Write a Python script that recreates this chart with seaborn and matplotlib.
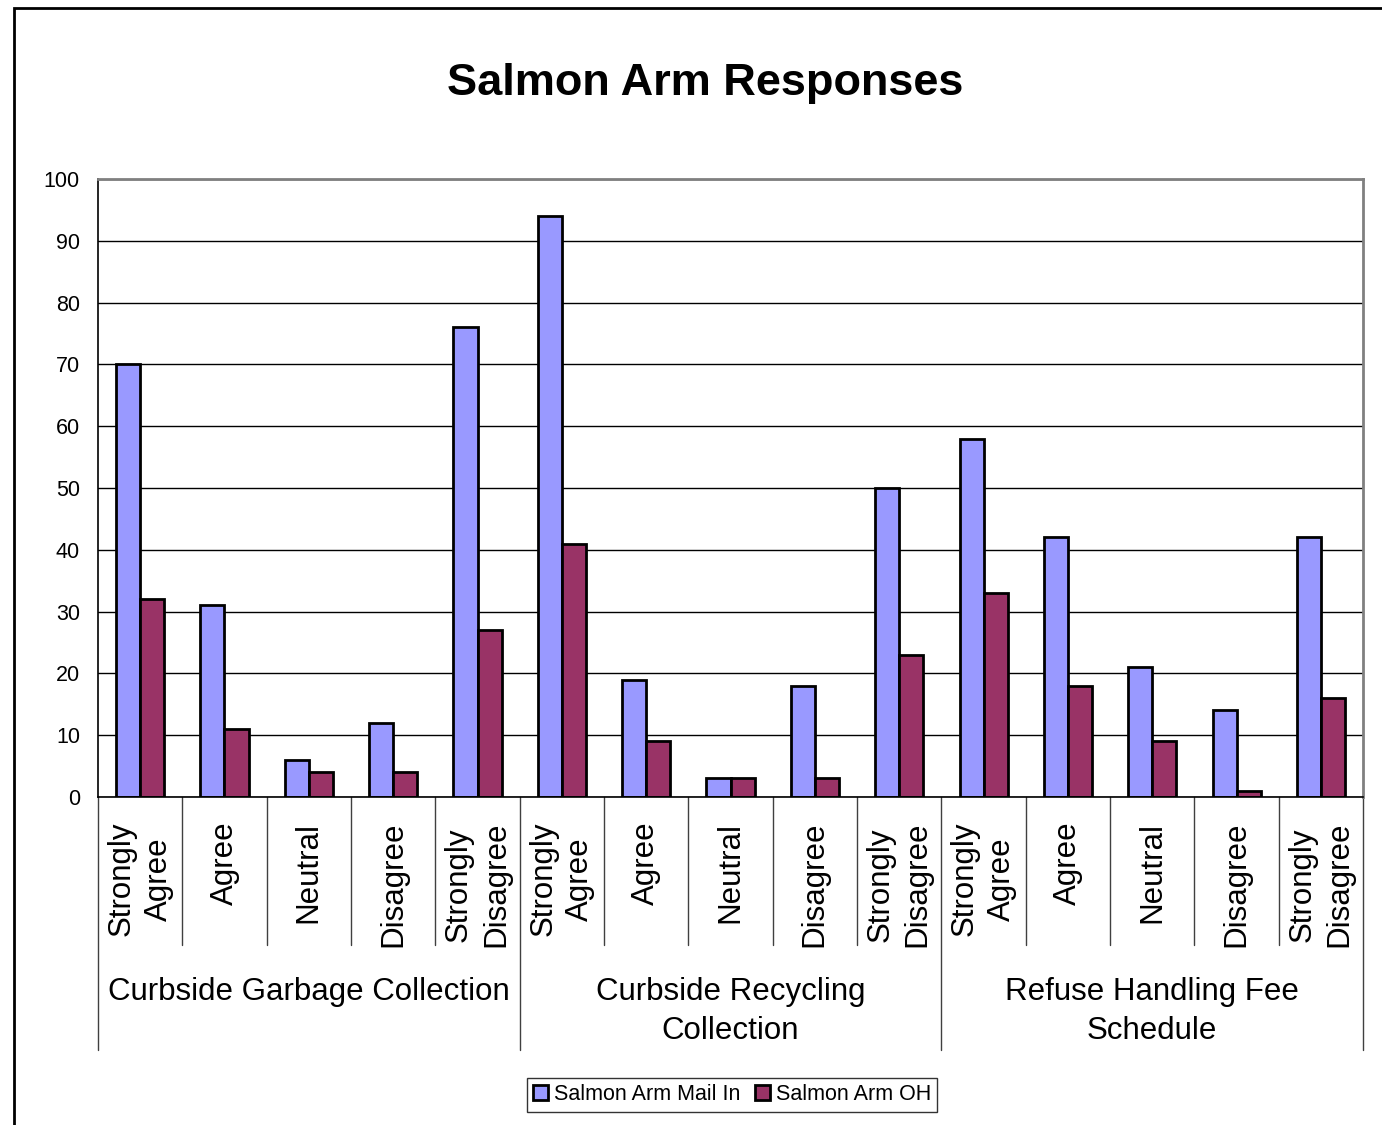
import matplotlib
matplotlib.use("Agg")
import matplotlib.pyplot as plt
import matplotlib.transforms as mtransforms
from matplotlib.patches import Rectangle, Patch
import pandas as pd
import seaborn as sns

# Data
groups = ["Curbside Garbage Collection", "Curbside Recycling\nCollection",
          "Refuse Handling Fee\nSchedule"]
responses = ["Strongly\nAgree", "Agree", "Neutral", "Disagree", "Strongly\nDisagree"]
series_names = ["Salmon Arm Mail In", "Salmon Arm OH"]
mail_in = [70, 31, 6, 12, 76,
           94, 19, 3, 18, 50,
           58, 42, 21, 14, 42]
oh = [32, 11, 4, 4, 27,
      41, 9, 3, 3, 23,
      33, 18, 9, 1, 16]
colors = ["#9999FF", "#993366"]

items = [f"{g}|{r}" for g in groups for r in responses]
df = pd.DataFrame({
    "item": items * 2,
    "value": mail_in + oh,
    "series": [series_names[0]] * len(items) + [series_names[1]] * len(items),
})

sns.set_style("white")
plt.rcParams["font.family"] = ["Liberation Sans", "DejaVu Sans"]
plt.rcParams["text.color"] = "black"
plt.rcParams["ytick.labelcolor"] = "black"

fig = plt.figure(figsize=(13.82, 11.25), dpi=100)
ax = fig.add_axes([0.0709, 0.2916, 0.9154, 0.5493])

sns.barplot(data=df, x="item", y="value", hue="series", order=items,
            hue_order=series_names, palette=colors, width=0.57, gap=0,
            edgecolor="black", linewidth=2, saturation=1, legend=False, ax=ax)

ax.set_xlim(-0.5, len(items) - 0.5)
ax.set_ylim(0, 100)
ax.set_yticks(range(0, 101, 10))
ax.tick_params(axis="y", labelsize=15.5, length=7, width=1, direction="out",
               color="black", labelcolor="black", pad=6)
ax.tick_params(axis="x", length=0, labelbottom=False)
ax.set_xlabel("")
ax.set_ylabel("")
ax.yaxis.grid(True, color="black", lw=1)
ax.set_axisbelow(True)
for s in ["left", "bottom"]:
    ax.spines[s].set_color("black")
    ax.spines[s].set_linewidth(1.2)
for s in ["top", "right"]:
    ax.spines[s].set_color("#808080")
    ax.spines[s].set_linewidth(2)

# multi-level category axis
trans = mtransforms.blended_transform_factory(ax.transData, ax.transAxes)
n = len(responses)
for i, lab in enumerate(items):
    ax.text(i, -0.04, lab.split("|")[1], transform=trans, rotation=90,
            ha="center", va="top", multialignment="center", fontsize=22.5,
            linespacing=1.3, color="black")
for b in range(len(items) + 1):
    x = b - 0.5
    y_end = -0.409 if b % n == 0 else -0.2395
    ax.plot([x, x], [0, y_end], transform=trans, color="#404040", lw=1,
            clip_on=False)
for gi, g in enumerate(groups):
    ax.text(gi * n + (n - 1) / 2, -0.292, g, transform=trans, ha="center",
            va="top", fontsize=22.5, linespacing=1.38, color="black")

fig.text(0.5101, 0.926, "Salmon Arm Responses", ha="center", va="center",
         fontsize=32.5, fontweight="bold", color="black")

handles = [Patch(facecolor=c, edgecolor="black", lw=2) for c in colors]
leg = fig.legend(handles, series_names, loc="center", bbox_to_anchor=(0.5297, 0.0267),
                 ncol=2, fontsize=15.5, frameon=True, fancybox=False,
                 handlelength=0.7, handleheight=0.7, handletextpad=0.25,
                 columnspacing=0.7, borderpad=0.3, borderaxespad=0)
leg.get_frame().set_edgecolor("black")
leg.get_frame().set_linewidth(1)
for t in leg.get_texts():
    t.set_color("black")

# outer chart border
fig.patches.append(Rectangle((14 / 1382, -0.05), 1.2, 1 - 8 / 1125 + 0.05,
                             transform=fig.transFigure, fill=False,
                             edgecolor="black", lw=2))

fig.savefig("out.png", dpi=100)
